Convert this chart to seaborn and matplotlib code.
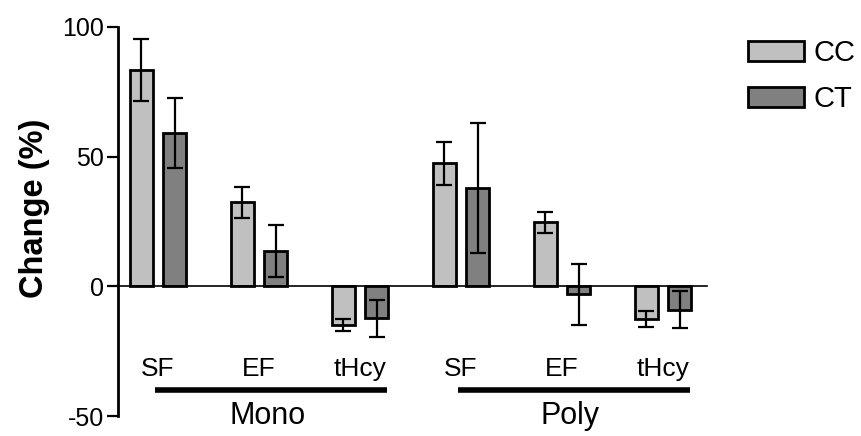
import numpy as np
import pandas as pd
import matplotlib.pyplot as plt
import seaborn as sns

# values
groups = ["Mono", "Mono", "Mono", "Poly", "Poly", "Poly"]
measures = ["SF", "EF", "tHcy", "SF", "EF", "tHcy"]
genotypes = ["CC", "CT"]
cc_mean = [83.5, 32.4, -15.0, 47.4, 24.7, -12.7]
cc_err = [12.0, 6.0, 2.4, 8.2, 4.0, 3.0]
ct_mean = [59.1, 13.6, -12.4, 37.8, -3.0, -9.0]
ct_err = [13.6, 9.9, 7.0, 25.0, 11.8, 7.2]
yticks = [-50, 0, 50, 100]

keys = [g + " " + m for g, m in zip(groups, measures)]
df = pd.DataFrame({
    "key": keys * 2,
    "genotype": ["CC"] * len(keys) + ["CT"] * len(keys),
    "change": cc_mean + ct_mean,
})

sns.set_style("ticks")
plt.rcParams["font.family"] = ["Liberation Sans", "DejaVu Sans"]
plt.rcParams["axes.unicode_minus"] = False
plt.rcParams["text.color"] = "black"
plt.rcParams["axes.labelcolor"] = "black"
plt.rcParams["xtick.color"] = "black"
plt.rcParams["ytick.color"] = "black"
plt.rcParams["axes.edgecolor"] = "black"

fig = plt.figure(figsize=(8.62, 4.36), dpi=100)
ax = fig.add_axes([118 / 862, 1 - 416 / 436, 589 / 862, 389 / 436])

sns.barplot(data=df, x="key", y="change", hue="genotype", order=keys,
            hue_order=genotypes, palette=["#c0c0c0", "#808080"],
            width=0.664, gap=0.31, errorbar=None, edgecolor="black",
            linewidth=2, ax=ax, zorder=2)

# error bars on top of each bar
for cont, means, errs in zip(ax.containers, [cc_mean, ct_mean], [cc_err, ct_err]):
    xs = [b.get_x() + b.get_width() / 2 for b in cont]
    ax.errorbar(xs, means, yerr=errs, fmt="none", ecolor="black",
                elinewidth=1.6, capsize=6, capthick=1.6, zorder=3)

ax.set_ylim(-50, 100)
ax.set_yticks(yticks)
ax.set_xlim(-0.396, len(keys) - 1 + 0.436)
ax.set_xlabel("")
ax.set_ylabel("Change (%)", fontsize=23.5, fontweight="bold")
ax.yaxis.set_label_coords(-0.115, 0.535)
ax.tick_params(axis="x", bottom=False, labelbottom=False)
ax.tick_params(axis="y", length=8, width=1.6, labelsize=18, pad=2)

sns.despine(ax=ax)
ax.spines["bottom"].set_position(("data", 0))
ax.spines["bottom"].set_linewidth(1.2)
ax.spines["left"].set_linewidth(2)

# category labels and group underlines
for i, m in enumerate(measures):
    ax.text(i, -32, m, ha="center", va="center", fontsize=19, clip_on=False)

for g in ["Mono", "Poly"]:
    idx = [i for i, gg in enumerate(groups) if gg == g]
    x0, x1 = idx[0] - 0.03, idx[-1] + 0.27
    ax.plot([x0, x1], [-40, -40], color="black", lw=4,
            solid_capstyle="butt", clip_on=False)
    ax.text((x0 + x1) / 2 - 0.04, -50, g, ha="center", va="center",
            fontsize=22, clip_on=False)

handles, labels = ax.get_legend_handles_labels()
ax.legend(handles, labels, loc="upper left",
          bbox_to_anchor=(748 / 862, 1 - 39 / 436), bbox_transform=fig.transFigure,
          frameon=False, fontsize=21, handlelength=1.93, handleheight=0.69,
          handletextpad=0.31, labelspacing=0.62, borderpad=0, borderaxespad=0)

plt.savefig("out.png", dpi=100)
